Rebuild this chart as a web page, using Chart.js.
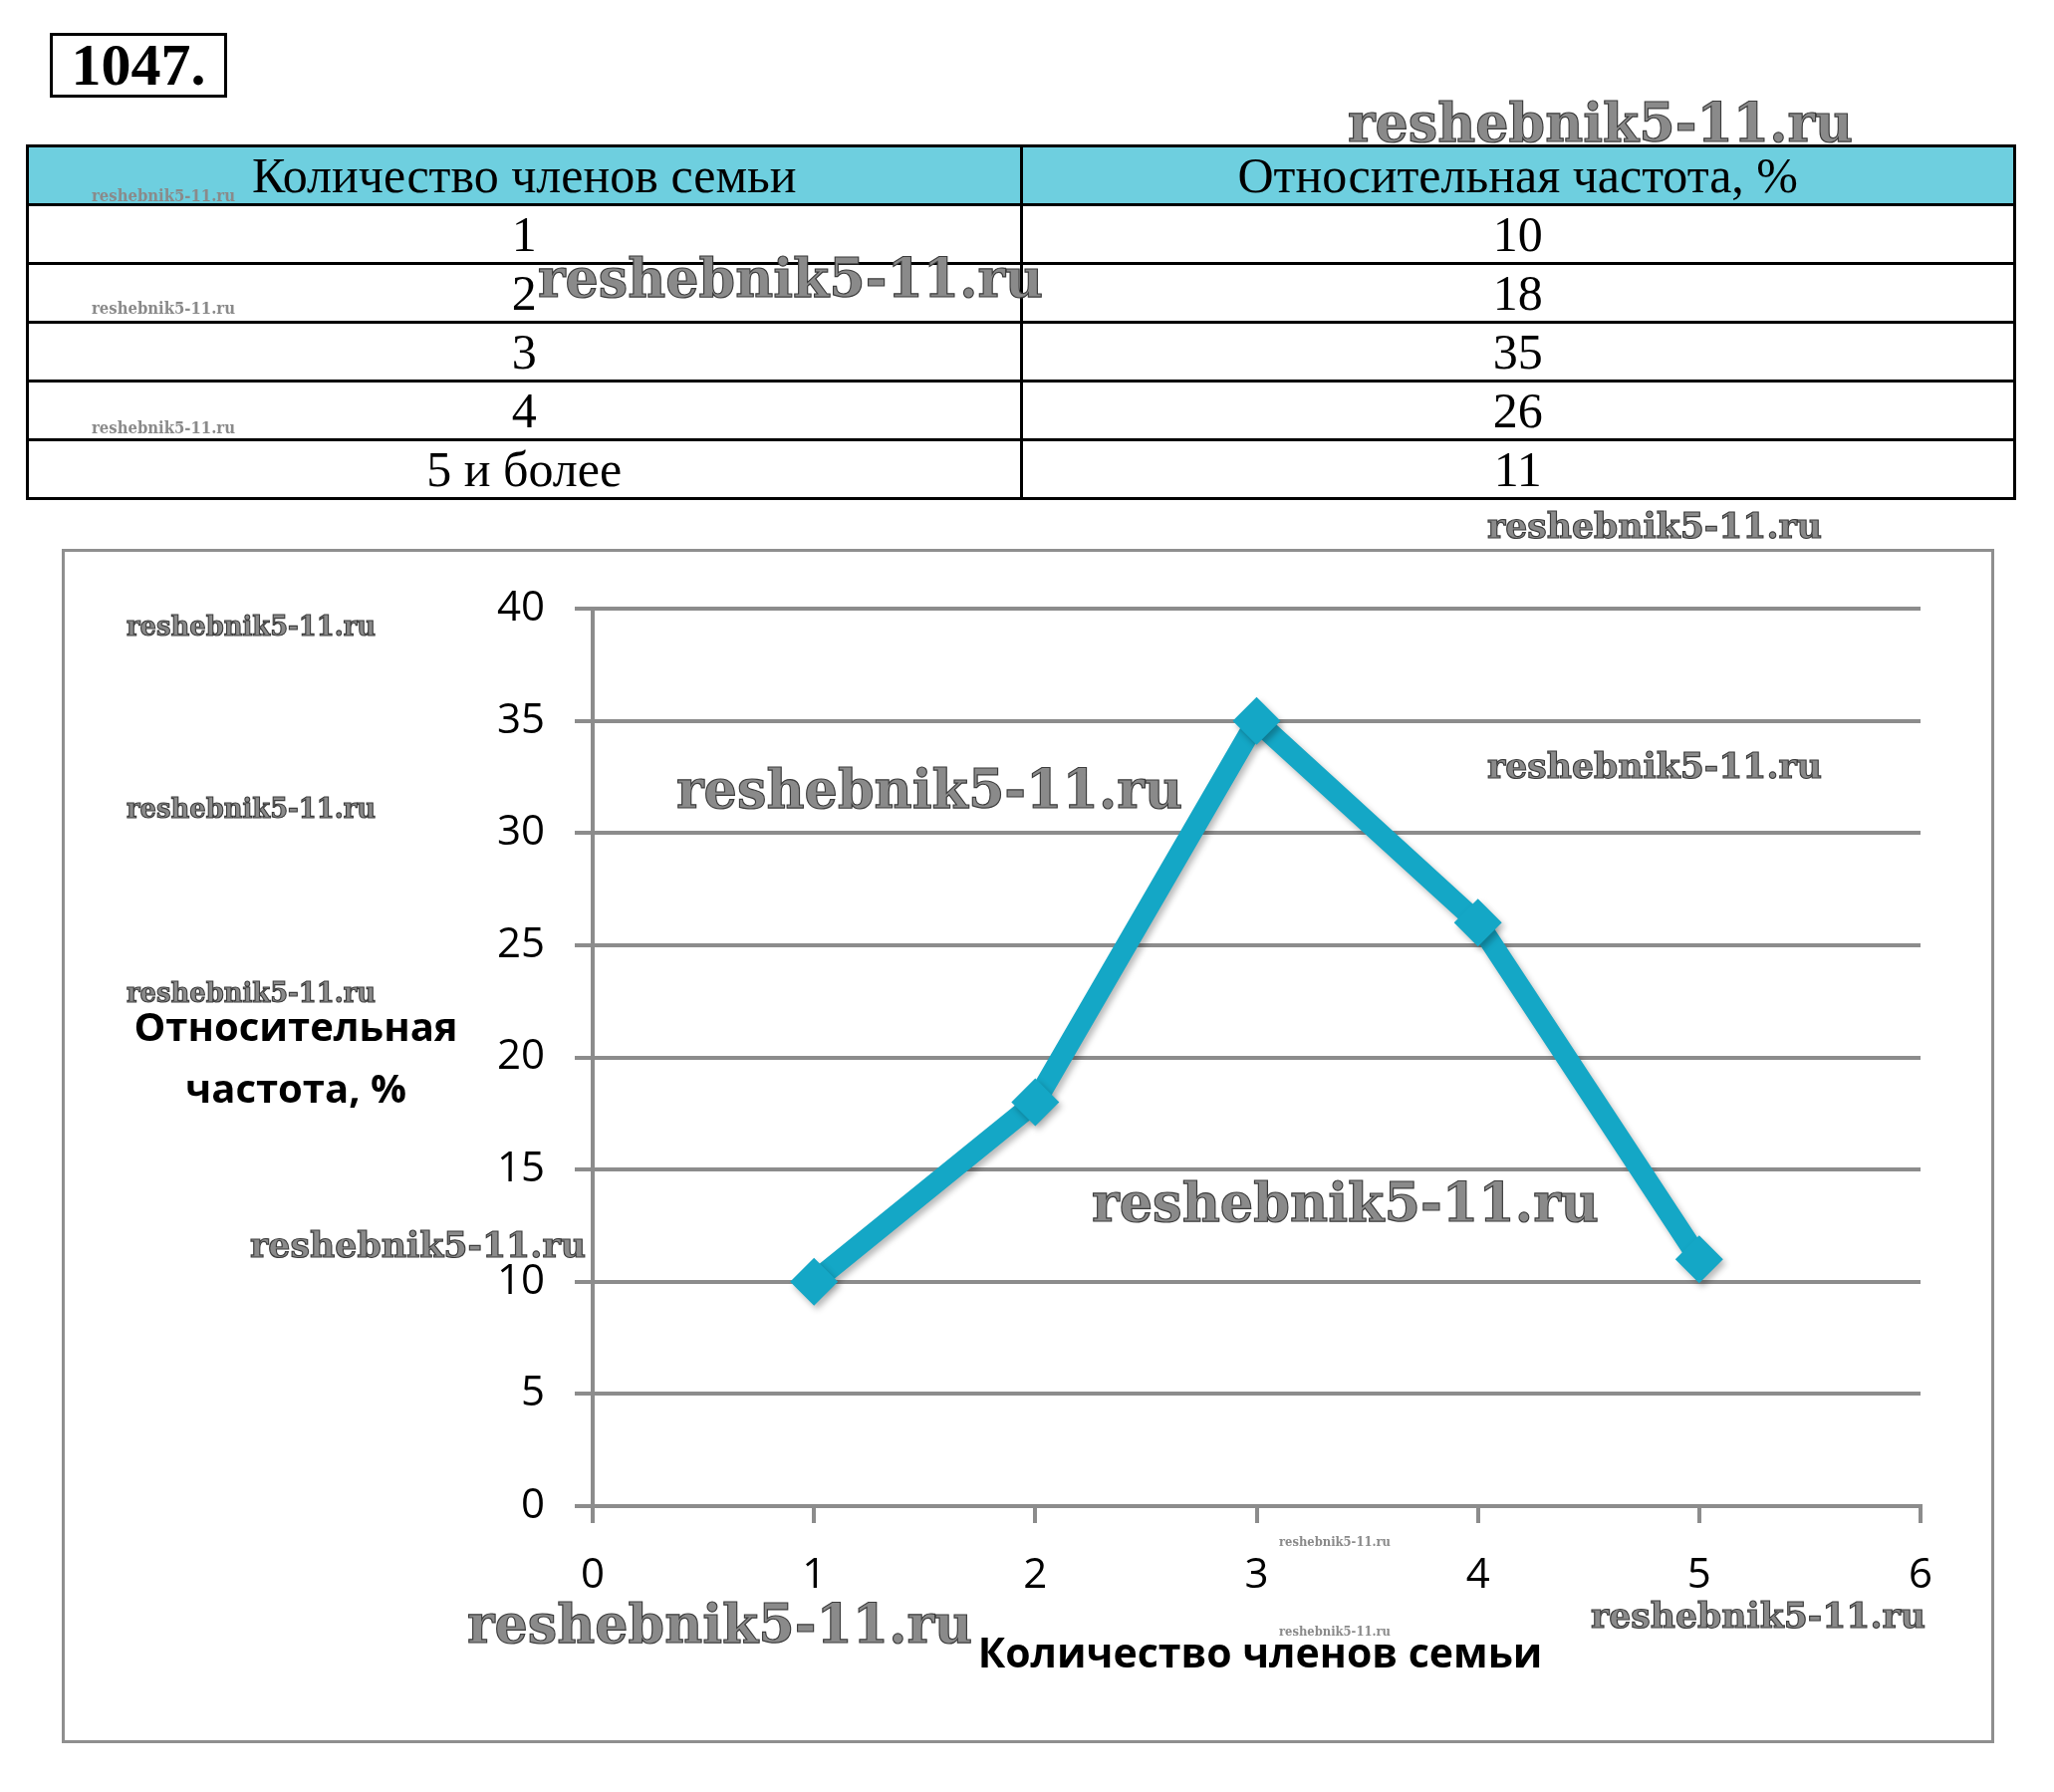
<!DOCTYPE html>
<html>
<head>
<meta charset="utf-8">
<script src="https://cdn.jsdelivr.net/npm/chart.js@4.4.1/dist/chart.umd.min.js"></script>
<style>
  body { margin: 0; background: #fff; }
  #page { position: relative; width: 2062px; height: 1799px; overflow: hidden; }
  #num {
    position: absolute; left: 50px; top: 33px; width: 172px; height: 59px;
    border: 3px solid #000; font: bold 60px "Liberation Serif", serif;
    line-height: 59px; text-align: center;
  }
  #tbl {
    position: absolute; left: 26px; top: 145px; width: 1998px;
    border-collapse: collapse; font: 50px "Liberation Serif", serif;
  }
  #tbl td, #tbl th {
    border: 3px solid #000; text-align: center; font-weight: normal;
    height: 56px; padding: 0; line-height: 56px; width: 50%;
  }
  #tbl th { background: #6ecfdf; height: 56px; }
  #frame {
    position: absolute; left: 62px; top: 551px; width: 1934px; height: 1193px;
    border: 3px solid #8f8f8f;
  }
  #myChart { position: absolute; left: 0; top: 0; }
</style>
</head>
<body>
<div id="page">
  <div id="num">1047.</div>
  <table id="tbl">
    <thead><tr><th id="h1"></th><th id="h2"></th></tr></thead>
    <tbody id="rows"></tbody>
  </table>
  <div id="frame"></div>
  <canvas id="myChart" width="2062" height="1799"></canvas>
</div>
<script>
// data
var members = [1, 2, 3, 4, 5];
var memberLabels = ["1", "2", "3", "4", "5 и более"];
var freq = [10, 18, 35, 26, 11];
var yTicks = [0, 5, 10, 15, 20, 25, 30, 35, 40];
var xTicks = [0, 1, 2, 3, 4, 5, 6];

var xTitle = "Количество членов семьи";
var yTitle = ["Относительная", "частота, %"];
var colTitle = "Относительная частота, %";

// table
document.getElementById("h1").textContent = xTitle;
document.getElementById("h2").textContent = colTitle;
var body = document.getElementById("rows");
for (var i = 0; i < members.length; i++) {
  var tr = document.createElement("tr");
  tr.innerHTML = "<td>" + memberLabels[i] + "</td><td>" + freq[i] + "</td>";
  body.appendChild(tr);
}

// watermarks: x, y(center), width, font size
var marks = [
  [1353, 128, 507, 54], [92, 198, 144, 17], [540, 284, 507, 54],
  [92, 311, 144, 17], [92, 431, 144, 17], [1493, 531, 336, 36],
  [127, 631, 250, 28], [679, 797, 508, 54], [1493, 772, 336, 36],
  [127, 814, 250, 28], [127, 999, 250, 28], [1096, 1212, 509, 54],
  [251, 1253, 337, 36], [1284, 1549, 112, 12], [469, 1635, 507, 54],
  [1284, 1639, 112, 12], [1597, 1625, 336, 36]
];

var gray = "#8c8c8c";
var tickFont = { family: "'Open Sans'", size: 42 };

var extras = {
  id: "extras",
  beforeDatasetsDraw: function (chart) {
    var c = chart.ctx;
    c.save();
    c.shadowColor = "rgba(0,0,0,0.28)";
    c.shadowBlur = 6;
    c.shadowOffsetX = 3;
    c.shadowOffsetY = 4;
  },
  afterDatasetsDraw: function (chart) {
    chart.ctx.restore();
  },
  afterDraw: function (chart) {
    var c = chart.ctx;
    c.save();
    c.fillStyle = "#000";
    c.textAlign = "center";
    c.textBaseline = "middle";
    c.font = "bold 40px 'Open Sans'";
    c.fillText(yTitle[0], 297, 1034);
    c.fillText(yTitle[1], 297, 1096);
    c.font = "bold 41px 'Open Sans'";
    c.fillText(xTitle, 1265, 1662);

    // watermarks
    c.textAlign = "left";
    for (var k = 0; k < marks.length; k++) {
      var m = marks[k];
      c.font = "bold " + m[3] + "px 'DejaVu Serif'";
      var w = c.measureText("reshebnik5-11.ru").width;
      c.save();
      c.translate(m[0], m[1]);
      c.scale(m[2] / w, 1);
      c.fillStyle = "#8a8a8a";
      c.fillText("reshebnik5-11.ru", 0, 0);
      if (m[3] > 20) {
        c.strokeStyle = "#3c3c3c";
        c.lineWidth = 1.2;
        c.strokeText("reshebnik5-11.ru", 0, 0);
      }
      c.restore();
    }
    c.restore();
  }
};

var points = [];
for (var j = 0; j < members.length; j++) {
  points.push({ x: members[j], y: freq[j] });
}

var ctx = document.getElementById("myChart").getContext("2d");
var myChart = new Chart(ctx, {
  type: "line",
  data: {
    datasets: [
      {
        data: points,
        borderColor: "#14a7c6",
        backgroundColor: "#14a7c6",
        borderWidth: 21,
        pointStyle: "rectRot",
        pointRadius: 24,
        pointBorderWidth: 0,
        tension: 0,
      },
    ],
  },
  options: {
    responsive: false,
    animation: false,
    devicePixelRatio: 1,
    layout: { padding: { top: 611, right: 134, bottom: 0, left: 0 } },
    plugins: { legend: { display: false }, tooltip: { enabled: false } },
    scales: {
      x: {
        type: "linear",
        min: 0,
        max: 6,
        afterBuildTicks: function (s) {
          s.ticks = xTicks.map(function (v) { return { value: v }; });
        },
        afterFit: function (s) { s.height = 287; },
        grid: { drawOnChartArea: false, color: gray, lineWidth: 4, tickLength: 17 },
        border: { color: gray, width: 4 },
        ticks: { color: "#000", font: tickFont, padding: 28, maxRotation: 0 },
      },
      y: {
        min: 0,
        max: 40,
        afterBuildTicks: function (s) {
          s.ticks = yTicks.map(function (v) { return { value: v }; });
        },
        afterFit: function (s) { s.width = 595; },
        grid: { color: gray, lineWidth: 4, tickLength: 18 },
        border: { color: gray, width: 4 },
        ticks: { color: "#000", font: tickFont, padding: 30 },
      },
    },
  },
  plugins: [extras],
});
</script>
</body>
</html>
